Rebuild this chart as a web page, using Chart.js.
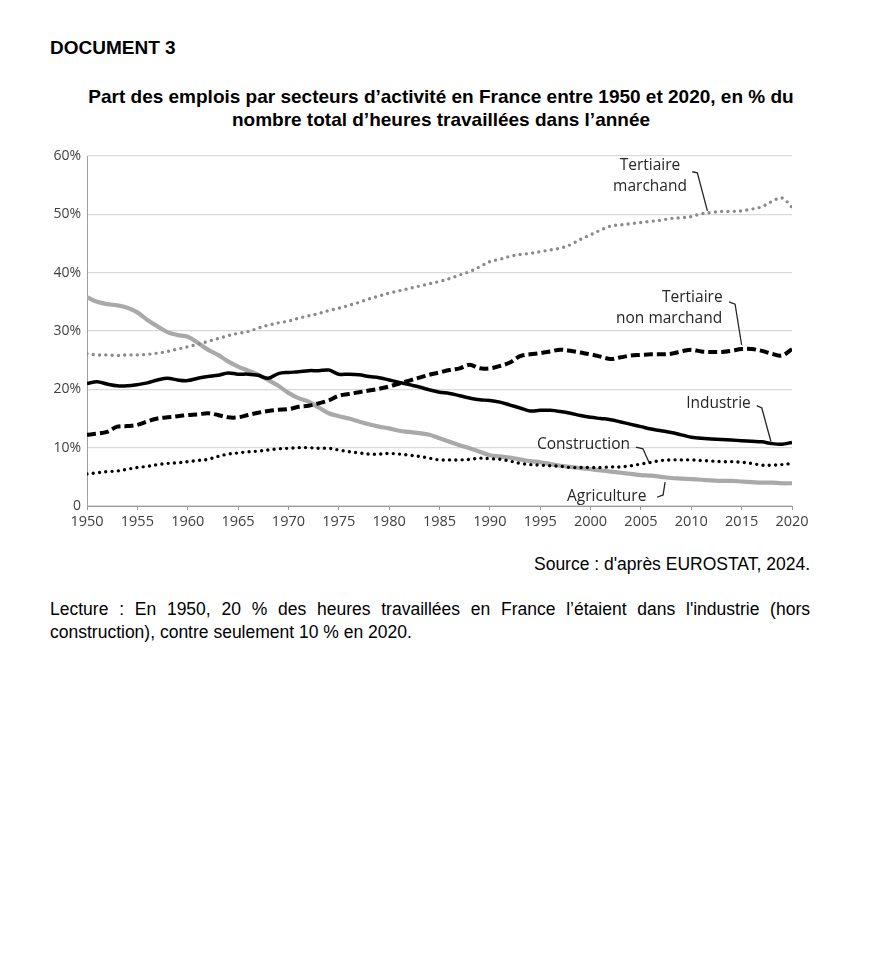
<!DOCTYPE html>
<html>
<head>
<meta charset="utf-8">
<script src="https://cdn.jsdelivr.net/npm/chart.js@4.4.1/dist/chart.umd.min.js"></script>
<style>
  html, body { margin:0; padding:0; background:#fff; }
  body { width:894px; height:968px; position:relative; font-family:"Liberation Sans", Arial, sans-serif; color:#000; }
  #doc { position:absolute; left:50px; top:37px; font-weight:bold; font-size:19px; }
  #title { position:absolute; left:20px; width:842px; top:85px; text-align:center; font-weight:bold; font-size:19px; line-height:23px; }
  #wrap { position:absolute; left:0; top:140px; width:820px; height:400px; }
  #source { position:absolute; right:84px; top:554px; font-size:17.5px; }
  #lecture { position:absolute; left:50px; width:760px; top:598px; font-size:17.5px; line-height:23px; text-align:justify; text-align-last:left; }
</style>
</head>
<body>
<div id="doc">DOCUMENT 3</div>
<div id="title">Part des emplois par secteurs d’activité en France entre 1950 et 2020, en % du<br>nombre total d’heures travaillées dans l’année</div>
<div id="wrap"><canvas id="c" width="820" height="400"></canvas></div>
<div id="source">Source : d'après EUROSTAT, 2024.</div>
<div id="lecture">Lecture : En 1950, 20 % des heures travaillées en France l’étaient dans l'industrie (hors construction), contre seulement 10 % en 2020.</div>
<script>
const years = [];
for (let y = 1950; y <= 2020; y++) years.push(y);

const agriculture = [35.8,35.0,34.6,34.4,34.0,33.2,31.9,30.8,29.8,29.3,29.0,28.0,26.8,25.9,24.8,23.9,23.2,22.5,21.6,20.6,19.4,18.5,17.9,16.9,15.9,15.4,15.0,14.5,14.0,13.6,13.3,12.9,12.7,12.5,12.2,11.6,11.0,10.4,9.9,9.3,8.7,8.5,8.3,8.0,7.7,7.5,7.2,6.9,6.7,6.5,6.3,6.1,5.9,5.7,5.5,5.3,5.2,5.0,4.8,4.7,4.6,4.5,4.4,4.3,4.3,4.2,4.1,4.0,4.0,3.9,3.9];
const tertiaireMarchand = [26.1,25.9,25.9,25.8,25.9,25.9,26.0,26.2,26.5,26.9,27.3,27.7,28.2,28.7,29.2,29.6,29.9,30.5,31.0,31.4,31.7,32.2,32.6,33.0,33.5,33.9,34.4,34.9,35.5,36.0,36.5,36.9,37.3,37.7,38.1,38.5,39.0,39.6,40.2,41.0,41.9,42.3,42.8,43.1,43.3,43.6,43.9,44.2,44.8,45.7,46.5,47.3,48.0,48.2,48.4,48.6,48.8,49.0,49.3,49.4,49.6,50.1,50.3,50.5,50.5,50.6,50.9,51.3,52.2,52.8,51.2];
const industrie = [21.0,21.3,20.9,20.6,20.6,20.8,21.1,21.6,21.9,21.6,21.5,21.9,22.2,22.4,22.8,22.6,22.6,22.4,21.9,22.7,22.9,23.0,23.2,23.2,23.3,22.6,22.6,22.5,22.2,22.0,21.6,21.2,20.8,20.4,19.9,19.5,19.3,18.9,18.5,18.2,18.1,17.8,17.3,16.8,16.3,16.4,16.4,16.2,15.9,15.5,15.2,15.0,14.8,14.4,14.0,13.6,13.2,12.9,12.6,12.2,11.8,11.6,11.5,11.4,11.3,11.2,11.1,11.0,10.7,10.6,10.9];
const tertiaireNonMarchand = [12.2,12.4,12.7,13.6,13.7,13.9,14.5,15.0,15.2,15.4,15.6,15.7,15.9,15.6,15.2,15.2,15.6,16.0,16.3,16.5,16.6,17.0,17.2,17.6,18.1,18.9,19.2,19.5,19.8,20.1,20.5,21.0,21.5,22.0,22.5,22.9,23.3,23.6,24.2,23.6,23.6,24.0,24.6,25.7,26.0,26.2,26.5,26.8,26.6,26.3,26.0,25.6,25.2,25.5,25.8,25.9,26.0,26.0,26.1,26.5,26.8,26.5,26.4,26.4,26.6,26.9,26.9,26.6,26.1,25.8,26.9];
const construction = [5.5,5.7,5.9,6.0,6.3,6.6,6.8,7.1,7.3,7.4,7.6,7.8,8.0,8.5,8.9,9.1,9.3,9.4,9.6,9.8,9.9,10.0,10.0,9.9,9.9,9.6,9.3,9.1,8.9,8.9,9.0,8.9,8.7,8.5,8.2,7.9,7.9,7.9,8.0,8.2,8.1,8.0,7.7,7.3,7.1,7.0,6.9,6.8,6.6,6.6,6.6,6.6,6.7,6.7,6.9,7.2,7.5,7.8,7.9,7.9,7.9,7.8,7.7,7.6,7.6,7.5,7.3,7.0,7.0,7.1,7.3];

const xTicks = [1950,1955,1960,1965,1970,1975,1980,1985,1990,1995,2000,2005,2010,2015,2020];
const yTicks = [0,10,20,30,40,50,60];

// annotation labels: text lines with (year, value) anchors, leader polylines in (year, value)
const annotations = [
  { lines:[["Tertiaire",2005.9,58.3],["marchand",2005.9,54.7]], leader:[[2010.1,57.3],[2010.6,57.1],[2011.6,50.6]] },
  { lines:[["Tertiaire",2010.1,35.8],["non marchand",2007.8,32.1]], leader:[[2013.75,35.0],[2014.35,34.6],[2015.0,27.6]] },
  { lines:[["Industrie",2012.7,17.5]], leader:[[2016.5,17.2],[2017.0,16.8],[2017.9,11.1]] },
  { lines:[["Construction",1999.3,10.6]], leader:[[2004.5,10.1],[2005.2,9.8],[2005.8,7.5]] },
  { lines:[["Agriculture",2001.6,1.7]], leader:[[2006.6,1.5],[2007.2,1.9],[2007.4,4.1]] }
];

const pts = arr => years.map((y,i) => ({x:y, y:arr[i]}));

const annotPlugin = {
  id:'annot',
  afterDatasetsDraw(chart) {
    const {ctx, scales:{x, y}} = chart;
    ctx.save();
    ctx.font = "15.5px 'Open Sans'";
    ctx.fillStyle = '#262626';
    ctx.textAlign = 'center';
    ctx.textBaseline = 'middle';
    annotations.forEach(a => {
      a.lines.forEach(l => ctx.fillText(l[0], x.getPixelForValue(l[1]), y.getPixelForValue(l[2])));
      ctx.beginPath();
      a.leader.forEach((p,i) => {
        const px = x.getPixelForValue(p[0]), py = y.getPixelForValue(p[1]);
        if (i===0) ctx.moveTo(px,py); else ctx.lineTo(px,py);
      });
      ctx.strokeStyle = '#262626';
      ctx.lineWidth = 1.3;
      ctx.stroke();
    });
    ctx.restore();
  }
};

const common = { pointRadius:0, tension:0.35, fill:false };

new Chart(document.getElementById('c'), {
  type:'line',
  data:{
    datasets:[
      { label:'Industrie', data:pts(industrie), borderColor:'#000', borderWidth:3.5, ...common },
      { label:'Tertiaire non marchand', data:pts(tertiaireNonMarchand), borderColor:'#000', borderWidth:4, borderDash:[9,4], ...common },
      { label:'Construction', data:pts(construction), borderColor:'#000', borderWidth:3.4, borderDash:[0,6.3], borderCapStyle:'round', ...common },
      { label:'Tertiaire marchand', data:pts(tertiaireMarchand), borderColor:'#8a8a8a', borderWidth:3.4, borderDash:[0,6.3], borderCapStyle:'round', ...common },
      { label:'Agriculture', data:pts(agriculture), borderColor:'#a9a9a9', borderWidth:4.2, ...common }
    ]
  },
  options:{
    responsive:false,
    animation:false,
    devicePixelRatio: window.devicePixelRatio || 1,
    layout:{ padding:{ left:0, right:28, top:16, bottom:0 } },
    plugins:{ legend:{display:false}, tooltip:{enabled:false} },
    scales:{
      x:{
        type:'linear', min:1950, max:2020,
        afterBuildTicks: s => { s.ticks = xTicks.map(v => ({value:v})); },
        afterFit: s => { s.height = 34; },
        ticks:{ callback: v => String(v), color:'#404040', font:{ family:"'Open Sans'", size:14.5 }, maxRotation:0, padding:3 },
        grid:{ drawOnChartArea:false, drawTicks:true, tickLength:4, color:'#9a9a9a' },
        border:{ color:'#9a9a9a', width:1 }
      },
      y:{
        min:0, max:60,
        afterBuildTicks: s => { s.ticks = yTicks.map(v => ({value:v})); },
        afterFit: s => { s.width = 87; },
        ticks:{ callback: v => v === 0 ? '0' : v + '%', color:'#404040', font:{ family:"'Open Sans'", size:14 }, padding:6 },
        grid:{ color:'#d9d9d9', lineWidth:1.3, drawTicks:false, tickLength:0 },
        border:{ color:'#a0a0a0', width:1 }
      }
    }
  },
  plugins:[annotPlugin]
});
</script>
</body>
</html>
